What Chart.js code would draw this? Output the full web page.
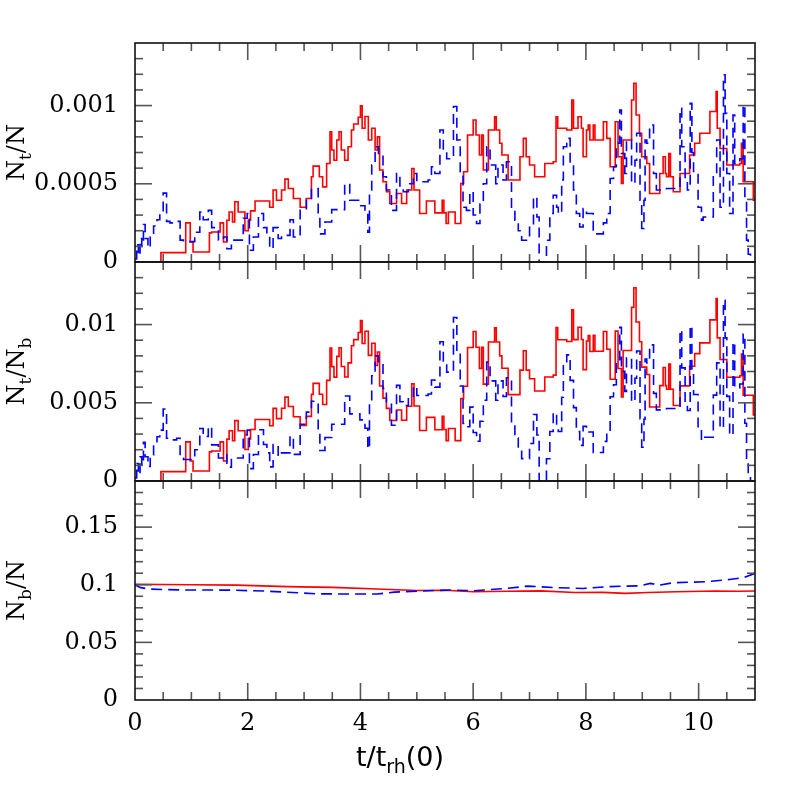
<!DOCTYPE html>
<html><head><meta charset="utf-8">
<script src="https://cdn.jsdelivr.net/npm/chart.js@4.4.1/dist/chart.umd.min.js"></script>
<style>html,body{margin:0;padding:0;background:#fff;}#wrap{position:relative;width:797px;height:797px;}</style>
</head><body><div id="wrap"><canvas id="c" width="797" height="797"></canvas></div>
<script>
// ---- tick values / labels ----
const xTicks = [0, 2, 4, 6, 8, 10];
const xTickLabels = ['0', '2', '4', '6', '8', '10'];
const topTicks = [0, 0.0005, 0.001];
const topTickLabels = ['0', '0.0005', '0.001'];
const midTicks = [0, 0.005, 0.01];
const midTickLabels = ['0', '0.005', '0.01'];
const botTicks = [0, 0.05, 0.1, 0.15];
const botTickLabels = ['0', '0.05', '0.1', '0.15'];

// ---- red (solid) series: step start times, top values (x1e-4), middle values (x1e-3) ----
const TOP_UNIT = 1e-4, MID_UNIT = 1e-3;
const redT = [0,0.46,0.90,0.98,1.03,1.32,1.36,1.51,1.57,1.63,
1.67,1.73,1.77,1.83,1.95,2.01,2.05,2.13,2.39,2.45,
2.51,2.60,2.66,2.72,2.81,2.93,3.04,3.13,3.16,3.27,
3.33,3.40,3.46,3.49,3.53,3.58,3.62,3.66,3.72,3.78,
3.84,3.88,3.96,4.00,4.03,4.08,4.14,4.20,4.26,4.30,
4.34,4.40,4.46,4.52,4.64,4.73,4.82,4.91,4.95,5.05,
5.17,5.32,5.45,5.48,5.52,5.56,5.68,5.78,5.83,5.90,
6.00,6.05,6.11,6.15,6.18,6.27,6.38,6.41,6.47,6.51,
6.62,6.83,6.89,6.94,7.00,7.09,7.27,7.42,7.47,7.50,
7.66,7.75,7.78,7.86,7.92,7.95,8.01,8.04,8.07,8.13,
8.16,8.31,8.37,8.43,8.52,8.57,8.63,8.66,8.81,8.85,
8.89,8.95,8.99,9.08,9.13,9.31,9.37,9.41,9.43,9.47,
9.50,9.55,9.67,9.84,9.93,10.02,10.20,10.31,10.33,10.38,
10.50,10.73,10.76,10.79,10.97,11.0];
const redTopV = [0,0.6,2.5,1.28,0.64,1.86,1.92,2.5,1.28,2.67,
3.2,2.56,3.85,3.2,2.0,2.67,3.27,3.9,3.5,4.6,
3.95,4.6,5.3,4.7,4.06,3.5,4.06,5.45,6.13,5.45,
4.8,6.3,8.33,7.16,6.5,7.8,8.33,7.16,6.5,7.37,
8.44,8.82,9.25,9.98,8.55,9.3,7.8,8.55,7.16,8.0,
5.88,5.13,4.49,3.74,4.38,3.74,4.6,5.98,4.6,3.1,
3.9,3.14,3.95,3.14,2.46,3.2,2.46,5.02,5.77,8.12,
9.08,8.12,6.84,8.12,5.88,8.44,9.29,8.44,7.59,6.84,
5.24,6.73,7.9,6.73,6.2,5.45,6.3,6.41,9.29,8.55,
8.44,10.36,8.55,9.29,8.55,6.73,8.44,8.76,7.8,8.76,
7.8,8.97,7.9,6.09,8.97,6.73,5.02,7.8,10.36,11.43,
9.4,8.23,6.73,6.3,4.38,5.66,6.73,5.66,5.45,6.94,
5.45,4.49,5.66,6.84,7.59,8.23,9.62,10.9,8.55,7.26,
6.2,6.3,7.59,5.13,3.95,3.95];
const redMidV = [0,0.6,2.5,1.28,0.64,1.86,1.92,2.5,1.28,2.68,
3.21,2.57,3.86,3.21,2.01,2.69,3.29,3.93,3.53,4.64,
3.99,4.65,5.36,4.76,4.11,3.55,4.13,5.54,6.24,5.55,
4.89,6.43,8.5,7.31,6.64,7.97,8.52,7.32,6.65,7.55,
8.65,9.04,9.49,10.26,8.79,9.57,8.03,8.81,7.38,8.25,
6.07,5.3,4.64,3.87,4.54,3.88,4.78,6.22,4.79,3.23,
4.07,3.28,4.14,3.29,2.58,3.36,2.58,5.27,6.06,8.53,
9.56,8.55,7.2,8.55,6.19,8.89,9.79,8.89,8.0,7.21,
5.52,7.09,8.33,7.09,6.54,5.75,6.65,6.77,9.81,9.03,
8.92,10.95,9.04,9.83,9.05,7.12,8.95,9.3,8.28,9.31,
8.29,9.56,8.42,6.5,9.58,7.19,5.37,8.34,11.1,12.35,
10.16,8.9,7.28,6.81,4.73,6.1,7.26,6.1,5.87,7.48,
5.87,4.83,6.08,7.34,8.14,8.83,10.3,11.67,9.15,7.77,
6.63,6.73,8.11,5.48,4.22,4.22];

// ---- blue (dashed) series ----
const blueT = [0.00,0.03,0.06,0.09,0.12,0.15,0.18,0.23,0.27,0.33,
0.39,0.44,0.50,0.56,0.62,0.74,0.80,0.86,1.06,1.15,
1.21,1.30,1.36,1.48,1.57,1.63,1.71,1.92,1.99,2.03,
2.10,2.19,2.28,2.34,2.39,2.45,2.54,2.60,2.75,2.81,
2.93,3.04,3.13,3.25,3.28,3.37,3.49,3.72,3.81,3.99,
4.08,4.13,4.16,4.20,4.26,4.32,4.40,4.46,4.55,4.64,
4.70,4.76,4.85,4.94,5.00,5.20,5.26,5.32,5.41,5.47,
5.53,5.65,5.71,5.77,5.82,5.88,5.94,6.00,6.06,6.12,
6.18,6.24,6.30,6.40,6.44,6.53,6.59,6.68,6.74,6.80,
6.86,7.00,7.07,7.13,7.17,7.30,7.36,7.42,7.48,7.51,
7.57,7.60,7.66,7.72,7.78,7.83,7.89,7.95,8.01,8.13,
8.31,8.37,8.43,8.49,8.54,8.60,8.63,8.69,8.72,8.81,
8.87,8.90,8.96,8.99,9.03,9.05,9.08,9.13,9.20,9.25,
9.43,9.67,9.70,9.76,9.80,9.85,9.88,9.91,9.99,10.05,
10.08,10.26,10.32,10.38,10.44,10.47,10.50,10.55,10.61,10.64,
10.73,10.79,10.82,10.85,10.88,10.92,11.0];
const blueTopV = [0.2,1.1,0.4,1.5,1.0,2.4,1.5,0.9,1.6,2.3,
2.7,3.1,4.4,2.6,2.5,2.6,1.4,1.3,1.9,3.2,
2.7,3.3,2.2,1.4,1.6,0.85,1.4,2.8,3.1,0.75,
1.6,3.1,2.2,1.7,0.85,2.2,1.5,1.7,2.7,1.6,
3.4,4.06,4.7,2.9,1.8,2.56,3.35,5.0,3.95,3.6,
3.1,1.9,4.6,6.2,7.37,6.94,5.45,4.6,3.3,5.66,
4.7,4.49,5.0,5.66,5.13,5.24,6.09,5.66,8.44,7.16,
6.6,9.94,7.8,5.77,3.5,3.3,4.49,3.0,2.46,3.7,
5.0,7.37,6.2,5.0,6.2,5.24,6.41,3.5,2.67,2.0,
1.39,2.35,4.17,2.88,0,1.39,3.1,4.27,3.5,3.1,
5.24,7.37,7.9,6.3,4.6,3.1,2.24,3.42,3.1,1.8,
2.5,3.1,5.34,6.09,7.59,9.72,6.94,5.66,7.8,5.02,
6.5,8.23,3.95,2.14,3.95,7.8,7.59,8.76,5.66,4.6,
4.7,9.83,7.37,5.2,4.6,10.15,7.0,5.66,3.5,2.67,
2.88,5.66,7.8,3.5,11.97,9.5,5.66,3.1,9.4,6.3,
6.6,10.04,3.95,1.4,0.5,0,0];
const blueMidV = [0.2,1.12,0.41,1.54,1.03,2.48,1.55,0.93,1.66,2.41,
2.83,3.25,4.6,2.73,2.63,2.73,1.47,1.37,2.0,3.36,
2.84,3.47,2.31,1.47,1.68,0.89,1.47,2.94,3.26,0.79,
1.69,3.28,2.33,1.8,0.9,2.33,1.59,1.8,2.87,1.7,
3.63,4.4,5.1,3.15,1.95,2.78,3.63,5.43,4.29,3.91,
3.37,2.06,4.99,6.73,8.0,7.53,5.91,4.97,3.56,6.11,
5.07,4.83,5.36,6.06,5.47,5.56,6.46,6.0,8.9,7.55,
6.96,10.45,8.2,6.07,3.68,3.47,4.72,3.1,2.54,3.82,
5.16,7.6,6.4,5.16,6.4,5.4,6.6,3.61,2.75,2.06,
1.43,2.4,4.25,2.94,0,1.42,3.16,4.36,3.57,3.16,
5.35,7.52,8.06,6.43,4.69,3.16,2.28,3.49,3.13,1.82,
2.53,3.13,5.39,6.15,7.67,9.82,7.01,5.72,7.88,5.07,
6.57,8.31,3.99,2.16,3.95,7.8,7.55,8.7,5.6,4.55,
4.63,9.65,7.23,5.1,4.51,9.93,6.85,5.53,3.42,2.6,
2.8,5.49,7.55,3.38,11.55,9.15,5.41,2.94,8.88,5.95,
6.2,9.39,3.69,1.31,0.47,0,0];

// ---- bottom panel N_b/N ----
const redBotT = [0,0.5,1.0,1.8,2.7,3.5,4.3,5.0,5.5,6.0,6.6,7.2,7.8,8.3,8.7,9.1,9.6,10.3,10.7,11];
const redBotV = [0.1003,0.1002,0.1,0.0997,0.0984,0.0977,0.0963,0.095,0.0952,0.0939,0.0944,0.0947,0.0932,0.0934,0.0925,0.0932,0.0939,0.0946,0.0944,0.0946];
const blueBotT = [0,0.1,0.27,0.8,1.7,2.3,2.9,3.2,4.3,4.6,5.2,5.6,6.0,6.6,6.96,7.5,7.95,8.37,8.96,9.14,9.3,9.55,10.14,10.55,10.8,11];
const blueBotV = [0.1,0.0975,0.0962,0.0955,0.0953,0.0945,0.093,0.0921,0.0919,0.0936,0.0948,0.0954,0.0948,0.0968,0.0988,0.0974,0.0968,0.0983,0.0991,0.1012,0.0997,0.1017,0.1026,0.1046,0.1062,0.1099];

const pts = (T, V, u) => T.map((t, i) => ({x: t, y: V[i] * u}));

const TICK_FONT = {family: 'DejaVu Serif', size: 24};
const RED = '#ff0000', BLUE = '#0000ff';

function drawParts(ctx, parts, x, y, mainFont, subFont, subDy) {
  let w = 0;
  const ws = parts.map(p => { ctx.font = p.sub ? subFont : mainFont; const m = ctx.measureText(p.t).width; w += m; return m; });
  let cx = x - w / 2;
  parts.forEach((p, i) => { ctx.font = p.sub ? subFont : mainFont; ctx.fillText(p.t, cx, y + (p.sub ? subDy : 0)); cx += ws[i]; });
}

const framePlugin = {
  id: 'frame',
  afterDatasetsDraw(chart) {
    const ctx = chart.ctx, xs = chart.scales.x;
    const L = chart.chartArea.left, R = chart.chartArea.right;
    const panels = [['yTop', 0.0001, 0.0005], ['yMid', 0.001, 0.005], ['yBot', 0.01, 0.05]];
    ctx.save();
    const line = (x1, y1, x2, y2) => { ctx.beginPath(); ctx.moveTo(x1, y1); ctx.lineTo(x2, y2); ctx.stroke(); };
    ctx.strokeStyle = '#555'; ctx.lineWidth = 1.6;
    for (const [id, minor, major] of panels) {
      const s = chart.scales[id];
      const T = s.top, B = s.bottom;
      const n = Math.floor(s.max / minor + 1e-6);
      for (let k = 1; k <= n; k++) {
        const v = k * minor;
        const y = s.getPixelForValue(v);
        if (y < T + 1) continue;
        const r = v / major;
        const len = Math.abs(r - Math.round(r)) < 1e-6 ? 17 : 8;
        line(L, y, L + len, y); line(R, y, R - len, y);
      }
      for (let k = 1; k < 22; k++) {
        const x = xs.getPixelForValue(k * 0.5);
        const len = (k % 4 === 0) ? 17 : 8;
        line(x, B, x, B - len); line(x, T, x, T + len);
      }
    }
    ctx.strokeStyle = '#111'; ctx.lineWidth = 1.6;
    for (const [id] of panels) {
      const s = chart.scales[id];
      ctx.strokeRect(L, s.top, R - L, s.bottom - s.top);
    }
    // axis titles
    ctx.fillStyle = '#000'; ctx.textBaseline = 'alphabetic'; ctx.textAlign = 'left';
    const mainF = '24px "DejaVu Serif"', subF = '17px "DejaVu Serif"';
    const titles = [
      ['yTop', [{t: 'N'}, {t: 't', sub: true}, {t: '/N'}]],
      ['yMid', [{t: 'N'}, {t: 't', sub: true}, {t: '/N'}, {t: 'b', sub: true}]],
      ['yBot', [{t: 'N'}, {t: 'b', sub: true}, {t: '/N'}]]
    ];
    for (const [id, parts] of titles) {
      const s = chart.scales[id];
      ctx.save();
      ctx.translate(24, (s.top + s.bottom) / 2);
      ctx.rotate(-Math.PI / 2);
      drawParts(ctx, parts, 0, 0, mainF, subF, 7);
      ctx.restore();
    }
    drawParts(ctx, [{t: 't/t'}, {t: 'rh', sub: true}, {t: '(0)'}], 400, 766, '27px "DejaVu Sans"', '19px "DejaVu Sans"', 7);
    ctx.restore();
  }
};

const yScale = (min, max, ticks, labels) => ({
  type: 'linear', position: 'left', stack: 'v', stackWeight: 1, min, max,
  grid: {display: false, drawTicks: false}, border: {display: false},
  afterBuildTicks: s => { s.ticks = ticks.map(v => ({value: v})); },
  afterFit: s => { s.width = 135; },
  ticks: {font: TICK_FONT, color: '#000', padding: 17, callback: (v, i) => labels[i]}
});

const common = {pointRadius: 0, borderWidth: 1.6, fill: false, tension: 0};
new Chart(document.getElementById('c'), {
  type: 'line',
  data: {datasets: [
    {...common, data: pts(blueT, blueTopV, TOP_UNIT), yAxisID: 'yTop', borderColor: BLUE, borderDash: [10, 6], stepped: true},
    {...common, data: pts(blueT, blueMidV, MID_UNIT), yAxisID: 'yMid', borderColor: BLUE, borderDash: [10, 6], stepped: true},
    {...common, data: pts(blueBotT, blueBotV, 1), yAxisID: 'yBot', borderColor: BLUE, borderDash: [11, 6]},
    {...common, data: pts(redT, redTopV, TOP_UNIT), yAxisID: 'yTop', borderColor: RED, stepped: true},
    {...common, data: pts(redT, redMidV, MID_UNIT), yAxisID: 'yMid', borderColor: RED, stepped: true},
    {...common, data: pts(redBotT, redBotV, 1), yAxisID: 'yBot', borderColor: RED}
  ]},
  options: {
    responsive: false, animation: false, devicePixelRatio: 1,
    layout: {padding: {top: 43, right: 42, left: 0, bottom: 0}},
    plugins: {legend: {display: false}, tooltip: {enabled: false}},
    scales: {
      x: {type: 'linear', min: 0, max: 11, position: 'bottom',
        grid: {display: false, drawTicks: false}, border: {display: false},
        afterBuildTicks: s => { s.ticks = xTicks.map(v => ({value: v})); },
        afterFit: s => { s.height = 97; },
        ticks: {font: TICK_FONT, color: '#000', padding: 9, maxRotation: 0, autoSkip: false, callback: (v, i) => xTickLabels[i]}},
      yBot: yScale(0, 0.19, botTicks, botTickLabels),
      yMid: yScale(0, 0.014, midTicks, midTickLabels),
      yTop: yScale(0, 0.0014, topTicks, topTickLabels)
    }
  },
  plugins: [framePlugin]
});
</script></body></html>
